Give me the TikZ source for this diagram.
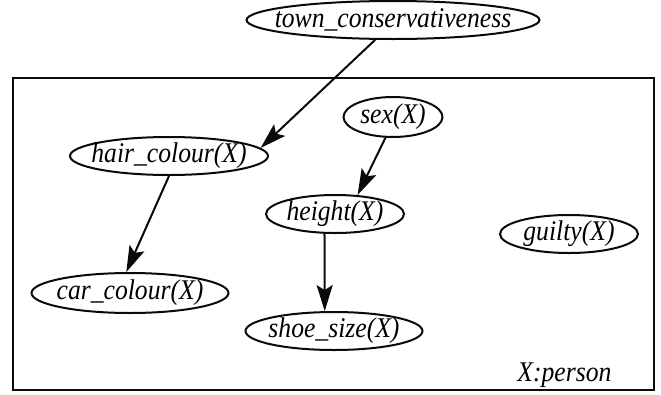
\documentclass[tikz,border=0pt]{standalone}
\usepackage{fontspec}
\setmainfont{Liberation Serif}[FakeStretch=0.9]
\usepackage{tikz}
\usetikzlibrary{shapes}
\usetikzlibrary{arrows.meta}
\tikzset{>=latex}
\definecolor{myblack}{RGB}{10,10,10}
\tikzstyle{var}=[ellipse, draw=myblack, line width=2pt, inner xsep=-80pt, inner ysep=0pt, minimum height=38]
\tikzstyle{plate}=[rectangle, draw=myblack, line width=2pt]
\tikzstyle{connect arrow}=[-{Stealth[length=26pt,width=16pt,inset=5pt]},line width=2pt,myblack]

\begin{document}
\begin{tikzpicture}[
    x=1pt, y=-1pt,
    font=\fontsize{28.5}{32}\selectfont\itshape]

\useasboundingbox (0,0) rectangle (661,394);

\node[plate, minimum width=641, minimum height=312] (plate) at (333.5,234) {};
\node[anchor=base east] (platelabel) at ([xshift=-40,yshift=10]plate.south east) {X:person};

\node[var, minimum width=293] (town) at (393,20) {town\_conservativeness};
\node[var, minimum width=198] (hair) at (169,156) {hair\_colour(X)};
\node[var, minimum width=99, minimum height=40] (sex) at (393,117) {sex(X)};
\node[var, minimum width=138] (height) at (335,214) {height(X)};
\node[var, minimum width=138] (guilty) at (569,234) {guilty(X)};
\node[var, minimum width=197, minimum height=40] (car) at (130,293) {car\_colour(X)};
\node[var, minimum width=177] (shoe) at (334,331) {shoe\_size(X)};

\begin{scope}[connect arrow]
    \draw (town.-132) to (hair.5);
    \draw (hair.south) to (car.100);
    \draw (sex.-110) to (height.40);
    \draw (height.-118) to (shoe.115);
\end{scope}

\end{tikzpicture}
\end{document}
